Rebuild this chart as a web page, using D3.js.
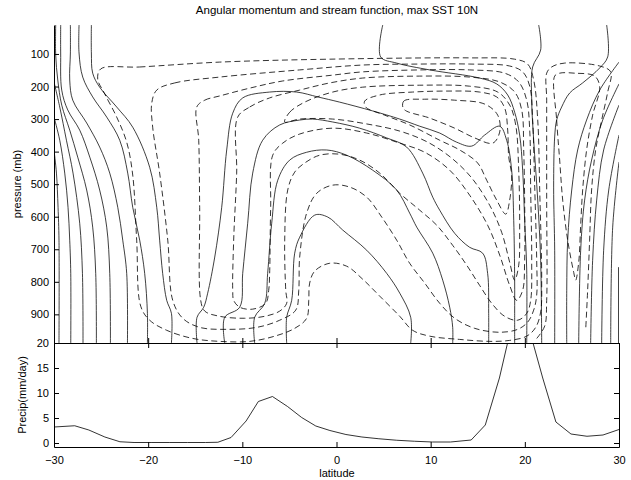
<!DOCTYPE html>
<html><head><meta charset="utf-8">
<script src="https://cdn.jsdelivr.net/npm/d3@7"></script>
<style>
body{margin:0;background:#fff}
svg{display:block}
text{font-family:"Liberation Sans",Arial,Helvetica,sans-serif;fill:#000}
</style>
</head><body>
<svg id="chart" width="631" height="480"></svg>
<script>
// ---------- data ----------
const titleText = "Angular momentum and stream function,  max SST 10N";
const latTicks = [-30, -20, -10, 0, 10, 20, 30];
const pressureTicks = [100, 200, 300, 400, 500, 600, 700, 800, 900];
const precipTicks = [0, 5, 10, 15, 20];

// precipitation (mm/day) vs latitude
const precipLat = [-30, -27.8, -26.3, -24.6, -23.0, -21.5, -19.6, -17.7, -15.8, -13.9, -12.6, -11.2, -9.6, -8.3, -6.8, -5.2, -3.7, -2.2, -0.7, 1.0, 2.7, 4.5, 6.4, 8.3, 10.2, 12.1, 14.3, 15.8, 17.3, 19.4, 21.9, 23.3, 24.9, 26.6, 28.3, 30];
const precipVal = [3.2, 3.45, 2.6, 1.2, 0.25, 0.1, 0.1, 0.1, 0.1, 0.1, 0.15, 1.1, 4.4, 8.3, 9.3, 7.3, 5.1, 3.4, 2.5, 1.7, 1.2, 0.85, 0.55, 0.35, 0.2, 0.2, 0.6, 3.6, 13, 30, 13, 4.2, 1.8, 1.35, 1.6, 2.7];

// angular momentum contours (solid), points [latitude, pressure mb]
const momentumContours = [
  [[-30,395],[-29.74,466],[-29.57,571],[-29.47,672],[-29.47,988]],
  [[-30,294],[-29.39,365],[-28.86,466],[-28.51,571],[-28.33,672],[-28.22,774],[-28.22,988]],
  [[-30,186],[-29.39,263],[-28.68,365],[-27.98,466],[-27.27,620],[-26.98,774],[-26.92,988]],
  [[-29.82,11],[-29.82,103],[-29.6,180],[-29.18,257],[-28.33,334],[-27.48,417],[-26.53,518],[-25.89,632],[-25.57,774],[-25.5,988]],
  [[-29.29,11],[-29.29,97],[-29.18,211],[-28.54,272],[-27.27,334],[-26.2,417],[-25.15,518],[-24.4,632],[-24.08,774],[-24.01,988]],
  [[-28.26,11],[-28.26,97],[-28.33,180],[-28.01,242],[-26.53,312],[-25.15,386],[-24.08,466],[-23.23,571],[-22.7,672],[-22.28,774],[-22.2,988]],
  [[-27.34,11],[-27.34,97],[-26.95,171],[-25.89,232],[-24.4,294],[-23.02,365],[-22.17,466],[-21.64,571],[-20.9,672],[-20.37,774],[-20.08,897],[-20.08,988]],
  [[-26.03,11],[-26.03,97],[-25.89,159],[-25.15,202],[-23.34,263],[-21.64,325],[-19.84,448],[-19.09,571],[-18.78,672],[-18.46,774],[-18.03,857],[-17.53,897],[-17.53,988]],
  [[-14.81,988],[-14.81,909],[-14.1,878],[-13.68,835],[-12.93,724],[-12.19,571],[-11.66,395],[-11.02,282],[-9.96,235],[-7.1,217],[-4.23,217],[-1.99,232],[0.34,248],[3.84,275],[6.72,300],[8.84,322],[10.96,343],[12.76,371],[14.36,383],[15.74,349],[17.33,322],[18.07,365],[18.6,457],[18.82,611],[18.92,795],[18.92,897],[18.92,988]],
  [[-11.87,988],[-11.87,909],[-10.28,878],[-9.96,774],[-9.43,620],[-8.9,466],[-7.84,365],[-6.03,318],[-3.91,303],[-2.53,300],[-0.4,309],[2.46,328],[5.33,358],[7.45,386],[9.15,466],[10.22,540],[10.96,580],[12.55,651],[14.14,694],[15.52,712],[16.05,774],[16.16,897],[16.16,988]],
  [[-8.69,988],[-8.69,909],[-7.62,866],[-7.31,774],[-6.88,620],[-6.24,488],[-4.97,426],[-3.17,402],[-1.04,395],[1.08,411],[3.84,457],[6.39,518],[7.77,589],[8.52,632],[10.22,712],[11.28,795],[12.02,878],[12.34,940],[12.34,988]],
  [[-5.29,988],[-5.29,909],[-4.76,857],[-4.44,712],[-3.91,663],[-2.31,595],[-0.93,601],[0.66,641],[3.21,703],[5.33,774],[6.72,835],[7.88,909],[7.88,988]],
  [[4.91,11],[4.69,109],[6.39,128],[9.9,149],[15.2,174],[17.01,192],[18.18,226],[18.92,279],[19.45,349],[19.77,457],[19.98,611],[20.2,764],[20.2,988]],
  [[21.47,11],[21.68,88],[20.83,140],[20.73,242],[20.94,365],[21.37,549],[21.68,734],[21.79,988]],
  [[28.69,11],[28.8,109],[27.95,143],[26.14,189],[24.76,220],[23.91,263],[23.38,303],[23.17,355],[23.06,509],[23.17,703],[23.17,988]],
  [[30,125],[27.95,211],[26.56,303],[25.61,395],[24.98,518],[24.55,672],[24.45,826],[24.45,988]],
  [[30,192],[28.27,303],[27.09,426],[26.35,549],[25.93,703],[25.72,988]],
  [[30,257],[28.37,395],[27.63,549],[27.2,734],[26.99,988]],
  [[30,349],[28.91,518],[28.37,703],[28.16,988]],
  [[30,432],[29.33,632],[29.12,988]],
  [[29.95,755],[29.95,988]]
];

// stream function contours (dashed), closed loops, points [latitude, pressure mb]
const streamLoops = [
  [[-25.04,146],[-20.9,140],[-12.4,125],[-0.72,116],[14.14,112],[18.92,116],[20.3,131],[20.94,180],[21.37,303],[21.58,518],[21.79,795],[21.68,893],[21.15,940],[20.2,967],[18.39,980],[16.27,983],[13.08,977],[9.9,967],[8.09,949],[6.72,906],[4.59,844],[2.78,792],[1.08,752],[-0.72,743],[-2.31,767],[-2.85,804],[-2.95,857],[-3.17,912],[-4.44,943],[-6.56,967],[-9.22,983],[-12.4,983],[-15.27,974],[-18.03,949],[-19.84,918],[-20.79,875],[-21.22,672],[-21.64,472],[-22.28,371],[-23.34,294],[-24.72,217],[-25.36,177]],
  [[-19.09,211],[-17.18,189],[-12.4,171],[-3.91,149],[2.78,134],[8.84,131],[14.14,131],[18.39,137],[19.77,155],[20.52,199],[20.83,303],[21.05,509],[21.26,734],[21.26,841],[20.94,887],[20.3,924],[19.24,946],[17.33,955],[14.68,943],[12.55,912],[10.96,866],[9.37,804],[7.77,743],[6.39,672],[4.8,601],[3.21,540],[1.4,509],[-0.4,503],[-2.1,528],[-3.17,589],[-3.91,724],[-4.01,826],[-4.33,887],[-6.03,918],[-8.47,940],[-11.66,946],[-14.53,940],[-16.33,912],[-17.39,857],[-17.92,672],[-18.78,466],[-19.52,325],[-19.62,251]],
  [[-14.84,263],[-13.99,242],[-12.4,229],[-9.22,205],[-5.71,183],[-0.4,165],[2.78,155],[8.84,149],[14.14,149],[17.86,159],[19.35,186],[20.2,242],[20.52,334],[20.62,518],[20.73,734],[20.62,857],[20.2,897],[19.24,918],[17.86,906],[16.48,866],[15.2,811],[13.83,749],[12.34,688],[10.64,626],[8.84,580],[6.72,528],[4.59,466],[2.46,426],[0.34,408],[-1.78,411],[-3.38,435],[-4.44,463],[-5.18,518],[-5.5,672],[-5.39,826],[-5.29,866],[-6.03,890],[-7.62,906],[-9.75,912],[-12.4,906],[-13.99,890],[-14.42,857],[-14.53,571],[-14.63,365]],
  [[-10.49,294],[-9.22,263],[-7.1,235],[-3.91,211],[-0.72,189],[2.78,174],[8.84,168],[14.14,171],[17.33,186],[18.92,217],[19.67,272],[19.88,395],[19.98,549],[19.98,734],[19.77,826],[19.14,857],[18.39,811],[17.33,718],[16.05,626],[14.14,534],[12.02,457],[9.37,402],[6.72,374],[3.21,343],[-0.4,328],[-3.91,346],[-5.71,374],[-6.77,411],[-6.99,571],[-7.1,774],[-7.2,826],[-7.52,866],[-8.9,884],[-10.28,878],[-10.92,857],[-11.02,826],[-10.92,672],[-10.6,466]],
  [[-5.5,309],[-4.97,279],[-3.38,248],[-0.4,217],[2.78,202],[8.84,196],[14.14,199],[17.12,217],[18.39,257],[19.03,318],[19.35,457],[19.45,641],[19.35,749],[18.92,795],[18.39,740],[17.54,648],[16.27,565],[14.36,481],[12.23,420],[9.69,371],[6.72,337],[3.21,315],[-0.4,300],[-3.91,300]],
  [[2.99,245],[4.59,226],[8.09,217],[11.7,214],[15.2,217],[17.01,232],[17.86,266],[18.18,334],[18.29,417],[18.6,472],[18.39,549],[17.97,592],[17.01,549],[15.95,488],[14.99,435],[13.08,395],[10.96,365],[7.77,318],[5.12,288],[3.1,263]],
  [[7.14,269],[7.14,245],[9.37,239],[12.55,242],[15.74,254],[17.12,288],[17.33,340],[16.59,374],[14.68,358],[12.55,328],[9.9,297]],
  [[23.17,168],[23.38,303],[23.7,426],[24.02,549],[24.55,672],[25.19,771],[25.4,795],[25.72,740],[25.93,626],[26.14,518],[26.56,395],[27.2,288],[27.95,202],[27.42,168],[25.29,159],[23.7,159]]
];
// open stream function contour (northern cell)
const streamOpen = [
  [[21.26,974],[22.11,936],[22.32,857],[22.32,549],[22.32,242],[22.32,159],[22.85,140],[24.23,128],[27.95,137],[29.12,155],[28.8,217],[28.16,303],[27.52,395],[27.09,518],[26.88,672],[26.67,826],[26.46,949]]
];

// ---------- drawing ----------
const svg = d3.select("#chart");
const X0 = 54, X1 = 619, TOP = 25, MID = 343, BOT = 447;

const x = d3.scaleLinear().domain([-30, 30]).range([X0, X1]);
const yP = d3.scaleLinear().domain([11, 988]).range([TOP, MID]);
const yR = d3.scaleLinear().domain([-0.8, 20]).range([BOT, MID]);

const defs = svg.append("defs");
defs.append("clipPath").attr("id", "clipTop").append("rect")
  .attr("x", X0).attr("y", TOP).attr("width", X1 - X0).attr("height", MID - TOP);
defs.append("clipPath").attr("id", "clipBot").append("rect")
  .attr("x", X0).attr("y", MID).attr("width", X1 - X0).attr("height", BOT - MID);

const lineOpen = d3.line().x(d => x(d[0])).y(d => yP(d[1])).curve(d3.curveCatmullRom.alpha(0.5));
const lineClosed = d3.line().x(d => x(d[0])).y(d => yP(d[1])).curve(d3.curveCatmullRomClosed.alpha(0.5));

const gTop = svg.append("g").attr("clip-path", "url(#clipTop)");
gTop.selectAll("path.mom").data(momentumContours).join("path")
  .attr("class", "mom").attr("d", lineOpen)
  .attr("fill", "none").attr("stroke", "#000").attr("stroke-width", 0.75);
gTop.selectAll("path.psi").data(streamLoops).join("path")
  .attr("class", "psi").attr("d", lineClosed)
  .attr("fill", "none").attr("stroke", "#000").attr("stroke-width", 0.8)
  .attr("stroke-dasharray", "6,3.5");
gTop.selectAll("path.psio").data(streamOpen).join("path")
  .attr("class", "psio").attr("d", lineOpen)
  .attr("fill", "none").attr("stroke", "#000").attr("stroke-width", 0.8)
  .attr("stroke-dasharray", "6,3.5");

// precipitation
const precipData = precipLat.map((d, i) => [d, precipVal[i]]);
svg.append("g").attr("clip-path", "url(#clipBot)").append("path")
  .datum(precipData)
  .attr("d", d3.line().x(d => x(d[0])).y(d => yR(d[1])))
  .attr("fill", "none").attr("stroke", "#000").attr("stroke-width", 0.8);

function styleAxis(g) {
  g.attr("font-family", null).attr("font-size", null);
  g.selectAll("text").attr("font-size", "11px").attr("fill", "#000");
  g.selectAll("line,path").attr("stroke", "#000");
}

// top panel axes
svg.append("g").attr("transform", `translate(${X0},0)`)
  .call(d3.axisLeft(yP).tickValues(pressureTicks).tickSize(-5).tickSizeOuter(0).tickPadding(5))
  .call(styleAxis);
svg.append("g").attr("transform", `translate(0,${MID})`)
  .call(d3.axisBottom(x).tickValues(latTicks.slice(1, -1)).tickSize(-5).tickSizeOuter(0).tickFormat(""))
  .call(g => g.select(".domain").remove())
  .call(styleAxis);

// bottom panel axes
svg.append("g").attr("transform", `translate(${X0},0)`)
  .call(d3.axisLeft(yR).tickValues(precipTicks).tickSize(-5).tickSizeOuter(0).tickPadding(5))
  .call(styleAxis);
svg.append("g").attr("transform", `translate(${X1},0)`)
  .call(d3.axisRight(yR).tickValues(precipTicks).tickSize(-5).tickSizeOuter(0).tickFormat(""))
  .call(styleAxis);
svg.append("g").attr("transform", `translate(0,${BOT})`)
  .call(d3.axisBottom(x).tickValues(latTicks).tickSize(-5).tickSizeOuter(0).tickPadding(9))
  .call(styleAxis);
svg.append("g").attr("transform", `translate(0,${MID})`)
  .call(d3.axisTop(x).tickValues(latTicks).tickSize(-5).tickSizeOuter(0).tickFormat(""))
  .call(styleAxis);

// titles and labels
svg.append("text").attr("x", 337).attr("y", 14).attr("text-anchor", "middle")
  .attr("font-size", "11.5px").text(titleText);
svg.append("text").attr("transform", "translate(21,184) rotate(-90)")
  .attr("text-anchor", "middle").attr("font-size", "11px").text("pressure (mb)");
svg.append("text").attr("transform", "translate(26,395) rotate(-90)")
  .attr("text-anchor", "middle").attr("font-size", "11px").text("Precip(mm/day)");
svg.append("text").attr("x", 337).attr("y", 477).attr("text-anchor", "middle")
  .attr("font-size", "11px").text("latitude");
</script>
</body></html>
